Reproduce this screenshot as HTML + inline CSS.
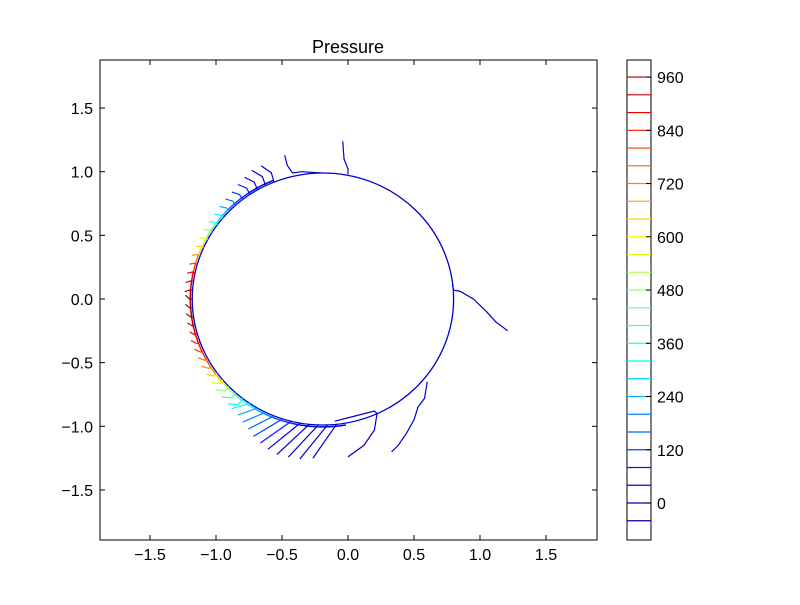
<!DOCTYPE html>
<html><head><meta charset="utf-8">
<style>
body{margin:0;background:#fff;}
svg text{font-family:"Liberation Sans",sans-serif;}
</style></head>
<body>
<svg id="chart" width="800" height="600" xmlns="http://www.w3.org/2000/svg">
<rect width="800" height="600" fill="#fff"/>
<text x="348" y="53" font-size="18" text-anchor="middle">Pressure</text>
<g id="plot"></g>
<rect x="100" y="60" width="497" height="480" fill="none" stroke="#000" stroke-width="1"/>
<g id="axes"></g>
<g id="cbar"></g>
</svg>
<script>
const xTicks=[-1.5,-1.0,-0.5,0.0,0.5,1.0,1.5];
const yTicks=[-1.5,-1.0,-0.5,0.0,0.5,1.0,1.5];
const levels=[-40,0,40,80,120,160,200,240,280,320,360,400,440,480,520,560,600,640,680,720,760,800,840,880,920,960];
const cbarTicks=[0,120,240,360,480,600,720,840,960];
const circle={cx:-0.19,cy:0.0,r:0.99};
const strokeAngles=[112,116,120,124,128,132,136,140,144,148,152,156,160,164,168,172,176,180,184,188,192,196,200,204,208,212,216,220,224,228,232,236,240,244,248,252,256,260,264,268,272,276];
const strokeValues=[0,0,40,80,120,160,240,320,400,480,560,640,720,800,880,920,960,960,960,960,920,880,840,800,760,720,640,560,480,400,360,320,240,200,160,120,80,40,0,0,0,0];
const strokeLengths=[0.16,0.16,0.14,0.12,0.1,0.09,0.08,0.07,0.07,0.07,0.06,0.06,0.06,0.06,0.06,0.06,0.06,0.06,0.06,0.06,0.06,0.06,0.07,0.07,0.07,0.08,0.08,0.09,0.1,0.11,0.12,0.14,0.16,0.19,0.22,0.26,0.29,0.32,0.34,0.34,0.34,0.32];
const extraLines=[
 [[-0.48,1.13],[-0.46,1.05],[-0.42,0.99],[-0.35,1.0],[-0.2,0.99]],
 [[-0.04,1.24],[-0.03,1.1],[0.0,1.02],[0.0,0.98]],
 [[0.79,0.12],[0.8,0.07],[0.85,0.06],[0.95,0.0],[1.05,-0.1],[1.12,-0.18],[1.21,-0.25]],
 [[0.33,-1.2],[0.38,-1.15],[0.44,-1.06],[0.5,-0.95],[0.53,-0.85],[0.58,-0.78],[0.6,-0.65]],
 [[0.0,-1.24],[0.12,-1.15],[0.2,-1.03],[0.22,-0.9],[0.2,-0.88],[0.05,-0.92],[-0.1,-0.96]]
];
const NS='http://www.w3.org/2000/svg';
const X=v=>348+v*132, Y=v=>299-v*127.3;
const vmin=-80,vmax=1000;
function jet(v){const t=(v-vmin)/(vmax-vmin);
 const c=x=>Math.round(255*Math.max(0,Math.min(1,x)));
 return `rgb(${c(1.5-Math.abs(4*t-3))},${c(1.5-Math.abs(4*t-2))},${c(1.5-Math.abs(4*t-1))})`;}
function mk(tag,attrs,parent){const e=document.createElementNS(NS,tag);for(const k in attrs)e.setAttribute(k,attrs[k]);parent.appendChild(e);return e;}
const plot=document.getElementById('plot');
const c0=mk('ellipse',{cx:X(circle.cx),cy:Y(circle.cy),rx:circle.r*132,ry:circle.r*127.3,fill:'none',stroke:jet(0),'stroke-width':1.3},plot);


for(let i=0;i<strokeAngles.length;i++){
 const deg=strokeAngles[i];
 const a=deg*Math.PI/180, v=strokeValues[i];
 const px=circle.cx+circle.r*Math.cos(a), py=circle.cy+circle.r*Math.sin(a);
 const L=strokeLengths[i];
 let pts;
 if(deg>232){
  const d=(deg-40)*Math.PI/180;
  pts=`${X(px)},${Y(py)} ${X(px+L*Math.cos(d))},${Y(py+L*Math.sin(d))}`;
 } else {
  const tilt=(deg<180?15:-30)*Math.PI/180;
  const d=a+tilt;
  const ex=px+L*Math.cos(d), ey=py+L*Math.sin(d);
  const mx=px+L*0.5*Math.cos(a)+0.01, my=py+L*0.5*Math.sin(a);
  pts=`${X(px)},${Y(py)} ${X(mx)},${Y(my)} ${X(ex)},${Y(ey)}`;
 }
 const p=mk('polyline',{points:pts,fill:'none',stroke:jet(v),'stroke-width':1.2},plot);
 
 
 const a2=(deg+4)*Math.PI/180;
 const q=mk('line',{x1:X(circle.cx+(circle.r+0.015)*Math.cos(a)),y1:Y(circle.cy+(circle.r+0.015)*Math.sin(a)),x2:X(circle.cx+(circle.r+0.015)*Math.cos(a2)),y2:Y(circle.cy+(circle.r+0.015)*Math.sin(a2)),stroke:jet(v),'stroke-width':1.5},plot);
 
 
}
for(const ln of extraLines){
 const p=mk('polyline',{points:ln.map(pt=>X(pt[0])+','+Y(pt[1])).join(' '),fill:'none',stroke:jet(0),'stroke-width':1.2},plot);
 
 
}
const axes=document.getElementById('axes');
for(const t of xTicks){
 const l=mk('line',{x1:X(t),x2:X(t),y1:540,y2:535,stroke:'#000'},axes);
 
 
 mk('line',{x1:X(t),x2:X(t),y1:60,y2:65,stroke:'#000'},axes);
 const tx=mk('text',{x:X(t),y:560,'font-size':16,'text-anchor':'middle'},axes);
 tx.textContent=(t<0?'\u2212':'')+Math.abs(t).toFixed(1);
 
 
}
for(const t of yTicks){
 const l=mk('line',{x1:100,x2:105,y1:Y(t),y2:Y(t),stroke:'#000'},axes);
 
 
 mk('line',{x1:597,x2:592,y1:Y(t),y2:Y(t),stroke:'#000'},axes);
 const tx=mk('text',{x:93,y:Y(t)+6,'font-size':16,'text-anchor':'end'},axes);
 tx.textContent=(t<0?'\u2212':'')+Math.abs(t).toFixed(1);
 
 
}
const cb=document.getElementById('cbar');
const CY=v=>503-v*0.4437;
const fr=mk('rect',{x:627,y:60,width:24,height:480,fill:'#fff',stroke:'#000'},cb);


for(const v of levels){
 const l=mk('line',{x1:627,x2:651,y1:CY(v),y2:CY(v),stroke:jet(v),'stroke-width':1.2},cb);
 
 
}
for(const v of cbarTicks){
 mk('line',{x1:651,x2:646,y1:CY(v),y2:CY(v),stroke:'#000'},cb);
 const tx=mk('text',{x:657,y:CY(v)+6,'font-size':16},cb);
 tx.textContent=v;
 
 
}
</script>
</body></html>
